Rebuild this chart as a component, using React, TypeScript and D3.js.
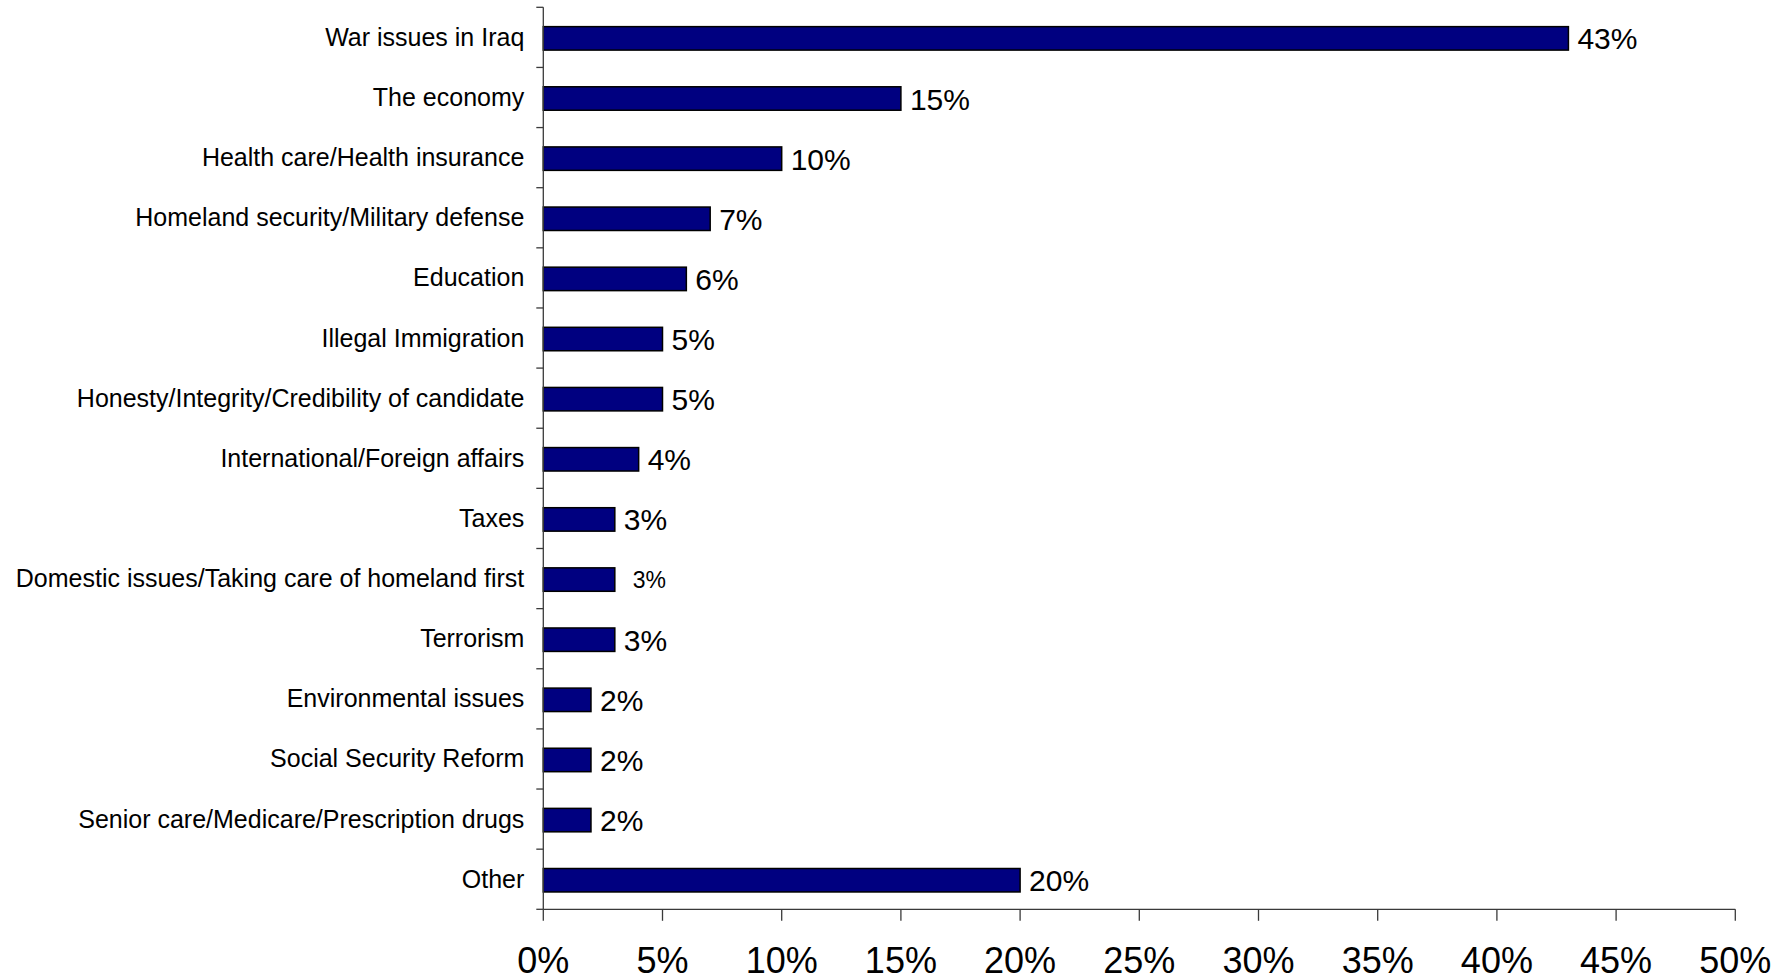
import React from "react";
import * as d3 from "d3";

const categories = [
  "War issues in Iraq",
  "The economy",
  "Health care/Health insurance",
  "Homeland security/Military defense",
  "Education",
  "Illegal Immigration",
  "Honesty/Integrity/Credibility of candidate",
  "International/Foreign affairs",
  "Taxes",
  "Domestic issues/Taking care of homeland first",
  "Terrorism",
  "Environmental issues",
  "Social Security Reform",
  "Senior care/Medicare/Prescription drugs",
  "Other",
];
const values = [43, 15, 10, 7, 6, 5, 5, 4, 3, 3, 3, 2, 2, 2, 20];
const xTicks = [0, 5, 10, 15, 20, 25, 30, 35, 40, 45, 50];
// label rendered smaller in the source
const smallLabelIndex = [9];

const W = 1785;
const H = 980;
const left = 543.3;
const right = 1735.3;
const top = 7.3;
const bottom = 909.3;
const FONT = "'Liberation Sans', Arial, sans-serif";

export default function App() {
  const x = d3.scaleLinear().domain([0, 50]).range([left, right]);
  const y = d3.scaleBand<string>().domain(categories).range([top, bottom]).padding(0);
  const step = y.step();
  const barH = step * 0.39;
  const boundaries = d3.range(categories.length + 1).map((i) => top + i * step);
  const axisColor = "#3a3a3a";

  return (
    <svg
      width={W}
      height={H}
      style={{ position: "absolute", left: 0, top: 0, background: "#fff" }}
      fontFamily={FONT}
    >
      {/* bars */}
      {categories.map((c, i) => {
        const yc = (y(c) as number) + step / 2 + 1;
        const small = smallLabelIndex.includes(i);
        return (
          <g key={c}>
            <rect
              x={x(0)}
              y={yc - barH / 2}
              width={x(values[i]) - x(0)}
              height={barH}
              fill="#000080"
              stroke="#000"
              strokeWidth={1.5}
            />
            <text
              x={left - 19}
              y={yc + 7.5}
              textAnchor="end"
              fontSize={25}
              fill="#000"
            >
              {c}
            </text>
            <text
              x={x(values[i]) + (small ? 18 : 9)}
              y={yc + (small ? 8.5 : 11)}
              fontSize={small ? 23 : 30}
              fill="#000"
            >
              {values[i]}%
            </text>
          </g>
        );
      })}
      {/* y axis */}
      <line x1={left} x2={left} y1={top} y2={bottom} stroke={axisColor} strokeWidth={1.3} />
      {boundaries.map((b, i) => (
        <line key={i} x1={left - 7} x2={left} y1={b} y2={b} stroke={axisColor} strokeWidth={1.3} />
      ))}
      {/* x axis */}
      <line x1={left} x2={right} y1={bottom} y2={bottom} stroke={axisColor} strokeWidth={1.3} />
      {xTicks.map((t) => (
        <g key={t}>
          <line x1={x(t)} x2={x(t)} y1={bottom} y2={bottom + 11.5} stroke={axisColor} strokeWidth={1.3} />
          <text x={x(t)} y={973} textAnchor="middle" fontSize={36} fill="#000">
            {t}%
          </text>
        </g>
      ))}
    </svg>
  );
}
